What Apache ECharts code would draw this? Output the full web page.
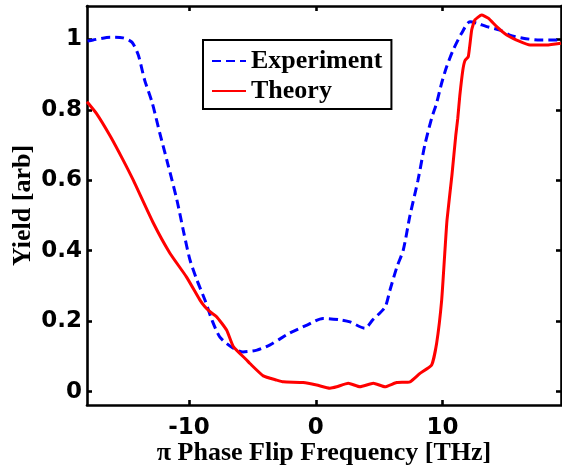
<!DOCTYPE html>
<html>
<head>
<meta charset="utf-8">
<script src="https://cdn.jsdelivr.net/npm/echarts@6/dist/echarts.min.js"></script>
<style>
html,body{margin:0;padding:0;background:#fff;}
#chart{width:562px;height:468px;}
</style>
</head>
<body>
<div id="chart"></div>
<script>
// ---- data ----
var expX = [-18.0, -17.56, -16.2, -15.2, -14.5, -14.0, -13.5, -12.9, -12.3, -11.65, -10.95, -10.4, -9.92, -9.37, -8.74, -8.19, -7.56, -6.53, -5.74, -4.64, -3.6, -2.82, -2.03, -0.69, 0.57, 1.91, 2.7, 3.88, 4.5, 5.46, 5.85, 6.4, 6.9, 7.43, 8.06, 8.6, 9.14, 9.53, 9.93, 10.32, 10.84, 11.5, 12.16, 12.69, 13.48, 14.53, 15.3, 16.35, 17.7, 19.0, 19.34];
var expY = [0.995, 0.998, 1.006, 1.004, 0.992, 0.956, 0.885, 0.82, 0.734, 0.644, 0.544, 0.45, 0.374, 0.317, 0.26, 0.204, 0.155, 0.124, 0.113, 0.118, 0.133, 0.15, 0.167, 0.189, 0.208, 0.204, 0.198, 0.18, 0.204, 0.24, 0.288, 0.354, 0.402, 0.50, 0.60, 0.70, 0.776, 0.819, 0.876, 0.922, 0.97, 1.017, 1.05, 1.046, 1.036, 1.026, 1.012, 1.003, 0.998, 0.998, 0.998];
var theoX = [-18.04, -17.3, -16.2, -15.2, -14.4, -12.8, -11.5, -10.2, -9.13, -8.74, -8.34, -7.82, -7.03, -6.5, -5.45, -5.19, -4.14, -3.08, -2.56, -0.99, 0.07, 1.12, 1.65, 2.56, 3.49, 4.54, 5.46, 6.38, 7.43, 8.22, 9.14, 9.53, 9.93, 10.19, 10.35, 10.74, 11.05, 11.2, 11.36, 11.6, 11.77, 12.03, 12.3, 12.55, 13.08, 13.6, 14.27, 15.06, 15.84, 16.9, 18.2, 19.34];
var theoY = [0.823, 0.79, 0.725, 0.658, 0.601, 0.478, 0.393, 0.326, 0.26, 0.241, 0.227, 0.213, 0.175, 0.128, 0.09, 0.08, 0.045, 0.033, 0.028, 0.026, 0.019, 0.01, 0.014, 0.024, 0.014, 0.024, 0.014, 0.026, 0.028, 0.052, 0.076, 0.137, 0.26, 0.402, 0.487, 0.615, 0.73, 0.776, 0.84, 0.913, 0.94, 0.951, 1.027, 1.055, 1.069, 1.06, 1.036, 1.012, 0.998, 0.984, 0.984, 0.989];
var xTicks = [-10, 0, 10];
var yTicks = [0, 0.2, 0.4, 0.6, 0.8, 1];
var seriesNames = ['Experiment', 'Theory'];
var xTitle = 'π Phase Flip Frequency [THz]';
var yTitle = 'Yield [arb]';

function pairs(xs, ys) { return xs.map(function (x, i) { return [x, ys[i]]; }); }

var chart = echarts.init(document.getElementById('chart'));
var tickFont = { fontFamily: 'DejaVu Sans', fontWeight: 'bold', fontSize: 23, color: '#000' };
var serif = { fontFamily: 'Liberation Serif', fontWeight: 'bold', fontSize: 26, color: '#000' };
var axLine = { show: true, onZero: false, lineStyle: { color: '#000', width: 2.6 } };
var XMIN = -18.04, XMAX = 19.34, YMIN = -0.0377, YMAX = 1.0945;

chart.setOption({
  animation: false,
  backgroundColor: '#fff',
  grid: { left: 87, right: 1, top: 6, bottom: 63, containLabel: false, outerBoundsMode: 'none' },
  legend: {
    left: 203, top: 40, orient: 'vertical',
    data: seriesNames,
    borderColor: '#000', borderWidth: 2, borderRadius: 0,
    padding: [8, 9, 5, 8],
    itemWidth: 34, itemHeight: 20, itemGap: 4,
    itemStyle: { color: 'rgba(0,0,0,0)', borderWidth: 0, opacity: 0 },
    textStyle: serif, backgroundColor: '#fff'
  },
  xAxis: [{
    type: 'value', min: XMIN, max: XMAX, position: 'bottom',
    axisLine: axLine,
    axisTick: { show: true, inside: true, length: 5, customValues: xTicks, lineStyle: { color: '#000', width: 2.6 } },
    axisLabel: Object.assign({ customValues: xTicks, margin: 12, formatter: function (v) { return String(v); } }, tickFont),
    splitLine: { show: false },
    name: xTitle, nameLocation: 'middle', nameGap: 35, nameMoveOverlap: false, nameTextStyle: serif
  }, {
    type: 'value', min: XMIN, max: XMAX, position: 'top',
    axisLine: axLine,
    axisTick: { show: true, inside: true, length: 5, customValues: xTicks, lineStyle: { color: '#000', width: 2.6 } },
    axisLabel: { show: false }, splitLine: { show: false }
  }],
  yAxis: [{
    type: 'value', min: YMIN, max: YMAX, position: 'left',
    axisLine: axLine,
    axisTick: { show: true, inside: true, length: 5, customValues: yTicks, lineStyle: { color: '#000', width: 2.6 } },
    axisLabel: Object.assign({ customValues: yTicks, margin: 5, formatter: function (v) { return String(Math.round(v * 10) / 10); } }, tickFont),
    splitLine: { show: false },
    name: yTitle, nameLocation: 'middle', nameGap: 51, nameMoveOverlap: false, nameTextStyle: serif
  }, {
    type: 'value', min: YMIN, max: YMAX, position: 'right',
    axisLine: axLine,
    axisTick: { show: true, inside: true, length: 5, customValues: yTicks, lineStyle: { color: '#000', width: 2.6 } },
    axisLabel: { show: false }, splitLine: { show: false }
  }],
  series: [{
    name: seriesNames[0], type: 'line', xAxisIndex: 0, yAxisIndex: 0,
    data: pairs(expX, expY), showSymbol: false, symbol: 'none', smooth: 0.25,
    lineStyle: { color: '#0000ff', width: 3, type: [9, 5] },
    itemStyle: { color: '#0000ff' }, z: 3
  }, {
    name: seriesNames[1], type: 'line', xAxisIndex: 0, yAxisIndex: 0,
    data: pairs(theoX, theoY), showSymbol: false, symbol: 'none', smooth: 0.15,
    lineStyle: { color: '#ff0000', width: 3, type: 'solid' },
    itemStyle: { color: '#ff0000' }, z: 4
  }]
});
</script>
</body>
</html>
